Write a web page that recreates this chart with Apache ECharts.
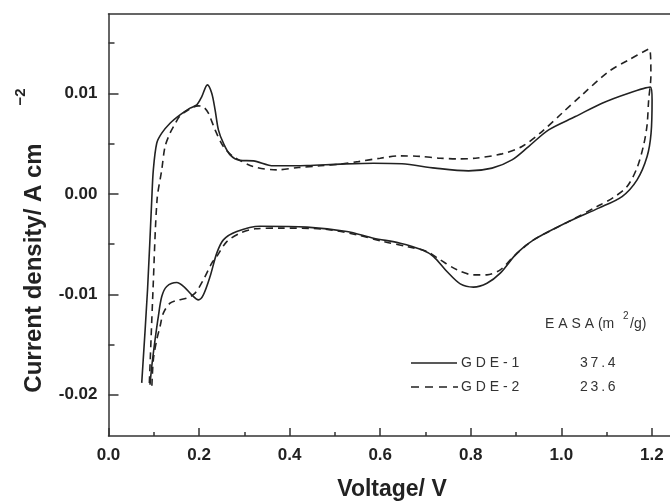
<!DOCTYPE html>
<html><head><meta charset="utf-8">
<script src="https://cdn.jsdelivr.net/npm/echarts@6/dist/echarts.min.js"></script>
<style>html,body{margin:0;padding:0;background:#fff}#c{width:670px;height:501px}</style>
</head><body><div id="c"></div>
<script>
const seriesNames = ['GDE-1', 'GDE-2'];
const easaValues = ['37.4', '23.6'];
const easaTitle = 'EASA';
const xTicks = [0, 0.2, 0.4, 0.6, 0.8, 1.0, 1.2];
const xMinorTicks = [0.1, 0.3, 0.5, 0.7, 0.9, 1.1];
const yTicks = [-0.02, -0.01, 0, 0.01];
const yMinorTicks = [-0.015, -0.005, 0.005, 0.015];

const gde1V = [0.0734,0.0862,0.0955,0.099,0.1065,0.1176,0.1359,0.158,0.180,0.195,0.206,0.2183,0.228,0.2354,0.2427,0.2537,0.2685,0.2906,0.32,0.3642,0.438,0.5116,0.5852,0.648,0.7215,0.795,0.847,0.891,0.9277,0.972,1.031,1.090,1.1487,1.1967,1.2004,1.1982,1.1894,1.1673,1.1341,1.0824,1.0161,0.9388,0.902,0.8652,0.8358,0.806,0.7768,0.7474,0.7178,0.6922,0.6442,0.5852,0.5264,0.438,0.3348,0.2833,0.2537,0.2391,0.2243,0.2095,0.1985,0.1839,0.1669,0.1507,0.1286,0.1176,0.110,0.1028,0.0955,0.0917];
const gde1J = [-0.01881,-0.00955,-0.0006,0.00239,0.00504,0.00604,0.00703,0.00786,0.00853,0.00886,0.00968,0.01085,0.01002,0.00836,0.00637,0.00504,0.00388,0.00333,0.00328,0.00279,0.00282,0.00296,0.00305,0.00299,0.00256,0.00229,0.00256,0.00338,0.00471,0.00637,0.00769,0.00902,0.01002,0.01062,0.00935,0.00604,0.00371,0.00139,-0.00027,-0.00142,-0.00276,-0.00458,-0.0059,-0.00789,-0.00889,-0.00928,-0.00896,-0.00773,-0.00624,-0.00557,-0.00491,-0.00441,-0.00375,-0.00331,-0.00323,-0.00375,-0.00458,-0.0059,-0.00823,-0.01005,-0.01055,-0.01005,-0.00925,-0.00883,-0.00922,-0.01022,-0.01221,-0.01453,-0.01718,-0.019];

const gde2V = [0.0902,0.0983,0.1072,0.1176,0.1249,0.1359,0.147,0.158,0.180,0.1978,0.2095,0.2206,0.2354,0.2537,0.2758,0.32,0.3717,0.4194,0.4674,0.5116,0.552,0.60,0.6442,0.6884,0.7326,0.770,0.81,0.869,0.9131,0.9573,1.0015,1.0457,1.1045,1.1487,1.1945,1.1978,1.1929,1.1894,1.1819,1.1673,1.1452,1.1156,1.0789,1.0161,0.9388,0.8946,0.8652,0.8358,0.806,0.7695,0.7326,0.7032,0.659,0.6073,0.5485,0.4747,0.379,0.3238,0.2906,0.2612,0.2391,0.2281,0.2095,0.1912,0.1728,0.1507,0.1359,0.1211,0.1138,0.1065,0.099,0.0955];
const gde2J = [-0.01884,-0.00955,-0.0006,0.00239,0.00471,0.00604,0.00697,0.00776,0.00846,0.00876,0.00866,0.00803,0.00637,0.00471,0.00371,0.00272,0.00239,0.00262,0.00279,0.00296,0.00321,0.00355,0.00378,0.00373,0.00355,0.00348,0.00355,0.00398,0.00471,0.0062,0.00803,0.00985,0.01217,0.01333,0.01443,0.01174,0.00935,0.00687,0.00488,0.00259,0.00073,-0.00035,-0.00126,-0.00276,-0.00458,-0.00624,-0.00756,-0.00806,-0.00806,-0.00756,-0.00657,-0.00574,-0.00524,-0.00475,-0.00408,-0.00351,-0.00341,-0.00348,-0.00391,-0.00475,-0.00624,-0.0069,-0.00856,-0.00988,-0.01038,-0.0106,-0.01088,-0.01187,-0.0132,-0.01453,-0.01652,-0.0195];

const zip = (a, b) => a.map((v, i) => [v, b[i]]);
const FONT = '"Liberation Sans", Arial, Helvetica, sans-serif';
const INK = '#222';
const spaced = s => s.split('').join(' ');
const thin = s => s.split('').join('\u2009');

const chart = echarts.init(document.getElementById('c'), null, {renderer: 'canvas'});

const axisLineStyle = {color: '#333', width: 1.5};
const option = {
  animation: false,
  backgroundColor: '#fff',
  grid: {left: 108.5, right: 0, top: 14, bottom: 65, containLabel: false},
  xAxis: [
    {type: 'value', position: 'bottom', min: 0, max: 1.24,
     axisLine: {show: true, onZero: false, lineStyle: axisLineStyle},
     axisTick: {show: true, inside: true, length: 8, customValues: xTicks, lineStyle: axisLineStyle},
     axisLabel: {show: true, customValues: xTicks, margin: 11, formatter: v => v.toFixed(1),
                 fontFamily: FONT, fontWeight: 'bold', fontSize: 17, color: INK},
     splitLine: {show: false}},
    {type: 'value', position: 'bottom', min: 0, max: 1.24,
     axisLine: {show: false, onZero: false},
     axisTick: {show: true, inside: true, length: 4, customValues: xMinorTicks, lineStyle: axisLineStyle},
     axisLabel: {show: false}, splitLine: {show: false}},
    {type: 'value', position: 'top', min: 0, max: 1.24,
     axisLine: {show: true, onZero: false, lineStyle: axisLineStyle},
     axisTick: {show: false}, axisLabel: {show: false}, splitLine: {show: false}}
  ],
  yAxis: [
    {type: 'value', position: 'left', min: -0.0241, max: 0.0179,
     axisLine: {show: true, onZero: false, lineStyle: axisLineStyle},
     axisTick: {show: true, inside: true, length: 10, customValues: yTicks, lineStyle: axisLineStyle},
     axisLabel: {show: true, customValues: yTicks, margin: 11, formatter: v => v.toFixed(2),
                 fontFamily: FONT, fontWeight: 'bold', fontSize: 17, color: INK},
     splitLine: {show: false}},
    {type: 'value', position: 'left', min: -0.0241, max: 0.0179,
     axisLine: {show: false, onZero: false},
     axisTick: {show: true, inside: true, length: 6, customValues: yMinorTicks, lineStyle: axisLineStyle},
     axisLabel: {show: false}, splitLine: {show: false}}
  ],
  series: [
    {name: seriesNames[0], type: 'line', xAxisIndex: 0, yAxisIndex: 0, data: zip(gde1V, gde1J),
     showSymbol: false, smooth: 0.3, lineStyle: {color: INK, width: 1.6, type: 'solid'}},
    {name: seriesNames[1], type: 'line', xAxisIndex: 0, yAxisIndex: 0, data: zip(gde2V, gde2J),
     showSymbol: false, smooth: 0.3, lineStyle: {color: INK, width: 1.6, type: [7, 5]}}
  ],
  graphic: [
    {type: 'text', x: 34, y: 268, rotation: Math.PI / 2,
     style: {text: 'Current density/ A cm', font: 'bold 24px ' + FONT, fill: INK, align: 'center', verticalAlign: 'middle'}},
    {type: 'text', x: 21, y: 97, rotation: Math.PI / 2,
     style: {text: '\u22122', font: 'bold 15px ' + FONT, fill: INK, align: 'center', verticalAlign: 'middle'}},
    {type: 'text', x: 392, y: 490,
     style: {text: 'Voltage/ V', font: 'bold 23px ' + FONT, fill: INK, align: 'center', verticalAlign: 'middle'}},
    // legend block
    {type: 'text', x: 545, y: 324,
     style: {text: spaced(easaTitle) + ' (m', font: '14px ' + FONT, fill: '#333', align: 'left', verticalAlign: 'middle'}},
    {type: 'text', x: 623, y: 316,
     style: {text: '2', font: '10px ' + FONT, fill: '#333', align: 'left', verticalAlign: 'middle'}},
    {type: 'text', x: 630, y: 324,
     style: {text: '/g)', font: '14px ' + FONT, fill: '#333', align: 'left', verticalAlign: 'middle'}},
    {type: 'line', shape: {x1: 411, y1: 363, x2: 457, y2: 363}, style: {stroke: INK, lineWidth: 1.5}},
    {type: 'line', shape: {x1: 411, y1: 387, x2: 458, y2: 387}, style: {stroke: INK, lineWidth: 1.5, lineDash: [8, 6]}},
    {type: 'text', x: 461, y: 363,
     style: {text: spaced(seriesNames[0]), font: '14px ' + FONT, fill: '#333', align: 'left', verticalAlign: 'middle'}},
    {type: 'text', x: 461, y: 387,
     style: {text: spaced(seriesNames[1]), font: '14px ' + FONT, fill: '#333', align: 'left', verticalAlign: 'middle'}},
    {type: 'text', x: 580, y: 363,
     style: {text: thin(easaValues[0]), font: '14px ' + FONT, fill: '#333', align: 'left', verticalAlign: 'middle'}},
    {type: 'text', x: 580, y: 387,
     style: {text: thin(easaValues[1]), font: '14px ' + FONT, fill: '#333', align: 'left', verticalAlign: 'middle'}}
  ]
};
chart.setOption(option);
</script>
</body></html>
